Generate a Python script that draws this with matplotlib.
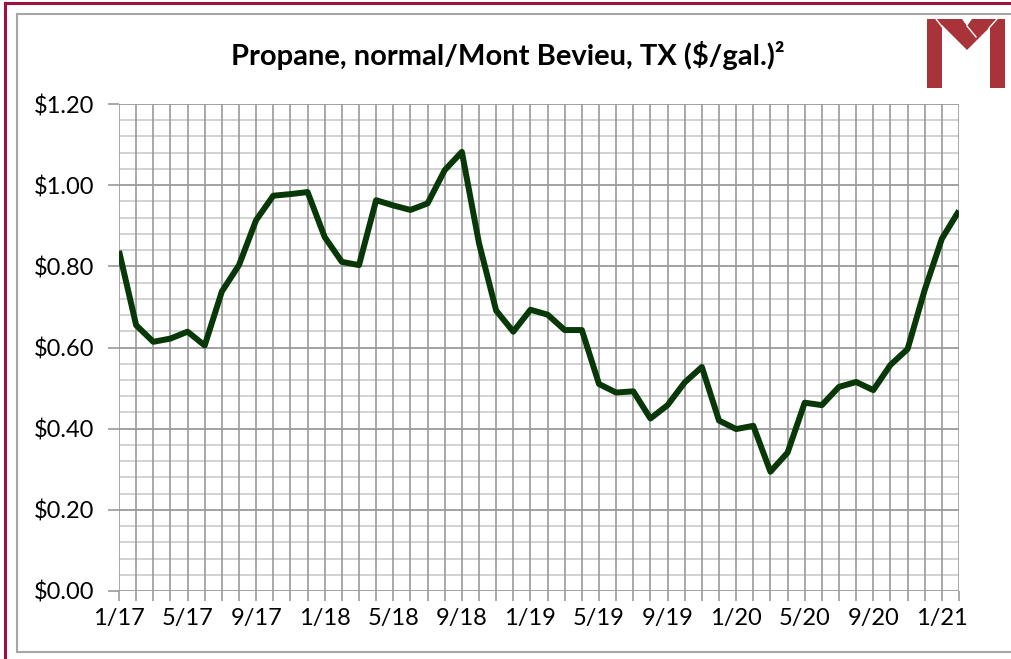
import matplotlib
matplotlib.use("Agg")
import matplotlib.pyplot as plt
from matplotlib.lines import Line2D
from matplotlib.patches import Polygon
import numpy as np

# ---- data ----
prices = [0.838, 0.655, 0.614, 0.622, 0.639, 0.605, 0.738, 0.803, 0.914, 0.974,
          0.978, 0.983, 0.872, 0.811, 0.803, 0.963, 0.950, 0.939, 0.955, 1.037,
          1.082, 0.857, 0.691, 0.639, 0.693, 0.681, 0.643, 0.643, 0.510, 0.489,
          0.492, 0.425, 0.458, 0.514, 0.552, 0.420, 0.399, 0.407, 0.294, 0.341,
          0.464, 0.458, 0.503, 0.515, 0.495, 0.557, 0.596, 0.742, 0.868, 0.937]
tick_labels = ["1/17", "5/17", "9/17", "1/18", "5/18", "9/18", "1/19",
               "5/19", "9/19", "1/20", "5/20", "9/20", "1/21"]
y_ticks = [0.0, 0.2, 0.4, 0.6, 0.8, 1.0, 1.2]
title = "Propane, normal/Mont Bevieu, TX ($/gal.)²"

FONT = ["Lato", "DejaVu Sans"]
W, H = 1011, 659
fig = plt.figure(figsize=(W / 100, H / 100), dpi=100)

def fx(x):
    return x / W

def fy(y):
    return 1 - y / H

ax = fig.add_axes([fx(119), fy(591), fx(959) - fx(119), fy(104) - fy(591)])
x = np.arange(len(prices))

# gridlines
for v in np.arange(0, 1.2001, 0.04):
    major = abs(round(v / 0.2) * 0.2 - v) < 1e-6
    ax.axhline(v, color="#9a9a9a" if major else "#cfcfcf", lw=1.3, zorder=1)
for i in range(len(prices)):
    ax.axvline(i, color="#9a9a9a", lw=1.2, zorder=1)

ax.plot(x, prices, color="#083808", lw=4.3, solid_joinstyle="round",
        solid_capstyle="butt", zorder=3)

ax.set_xlim(0, len(prices) - 1)
ax.set_ylim(0, 1.2)
for s in ax.spines.values():
    s.set_visible(False)

ax.set_xticks(x, minor=True)
ax.set_xticks(x[::4])
ax.set_xticklabels(tick_labels, fontsize=17, family=FONT)
ax.tick_params(axis="x", which="both", length=7, color="#9a9a9a", width=1.2,
               pad=5)
ax.set_yticks(y_ticks)
ax.set_yticklabels(["${:.2f}".format(v) for v in y_ticks], fontsize=17, family=FONT)
ax.tick_params(axis="y", length=8, color="#9a9a9a", width=1.2, pad=10)

fig.text(fx(508), fy(55), title, ha="center", va="center", fontsize=21,
         fontweight="bold", family=FONT)

# frames
fig.add_artist(Line2D([fx(5), fx(1011)], [fy(3), fy(3)], color="#a0103c", lw=2.2))
fig.add_artist(Line2D([fx(5), fx(5)], [fy(3), fy(659)], color="#a0103c", lw=2.2))
fig.add_artist(Line2D([fx(17), fx(1011)], [fy(14), fy(14)], color="#a6a6a6", lw=1.5))
fig.add_artist(Line2D([fx(17), fx(17)], [fy(14), fy(652)], color="#a6a6a6", lw=1.5))
fig.add_artist(Line2D([fx(17), fx(1011)], [fy(652), fy(652)], color="#a6a6a6", lw=1.5))

# logo
red = "#a8343a"
def poly(pts):
    fig.add_artist(Polygon([(fx(a), fy(b)) for a, b in pts], closed=True,
                           facecolor=red, edgecolor="none"))
poly([(927, 19), (942, 19), (942, 88), (927, 88)])
poly([(990, 19), (1005, 19), (1005, 88), (990, 88)])
poly([(936, 19), (962, 19), (967, 26), (972, 19), (998, 19), (967, 50)])
fig.add_artist(Line2D([fx(936), fx(943), fx(943)], [fy(19), fy(28), fy(88)],
                      color="white", lw=1.0))
fig.add_artist(Line2D([fx(997), fx(989), fx(989)], [fy(19), fy(28), fy(88)],
                      color="white", lw=1.0))
fig.add_artist(Line2D([fx(967), fx(976)], [fy(26), fy(37)], color="white", lw=1.0))

fig.savefig("out.png", dpi=100)
